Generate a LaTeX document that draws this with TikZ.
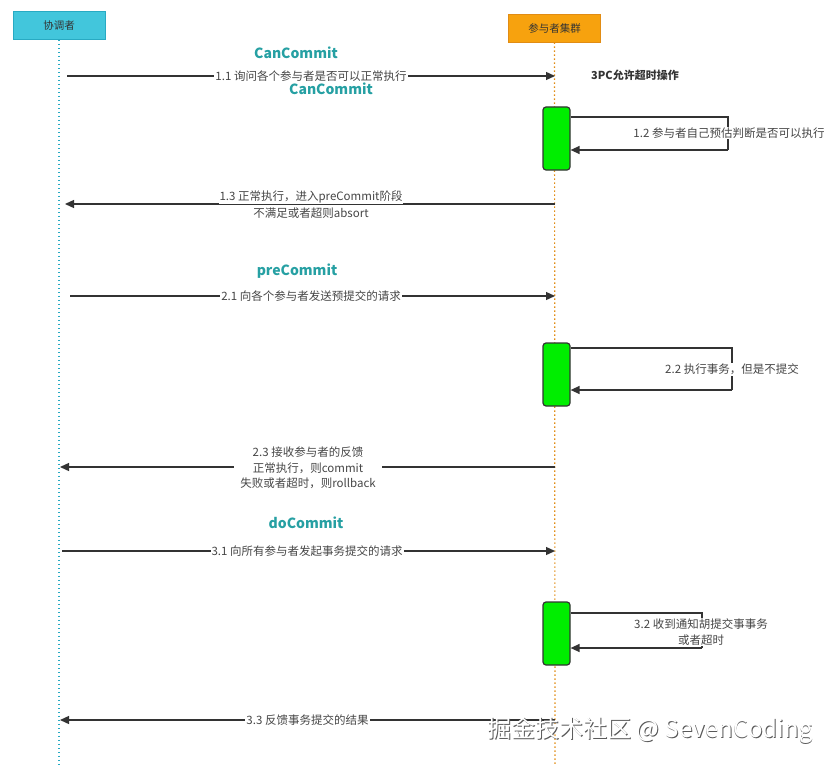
\documentclass[tikz,border=0pt]{standalone}
\usepackage{fontspec}
\setmainfont{Noto Sans CJK SC}
\usetikzlibrary{arrows.meta}
\definecolor{teal2}{RGB}{38,160,163}
\definecolor{cyanbox}{RGB}{66,198,220}
\definecolor{cyanline}{RGB}{40,170,195}
\definecolor{orangebox}{RGB}{247,162,14}
\definecolor{orangeline}{RGB}{225,140,20}
\definecolor{actgreen}{RGB}{0,238,0}
\definecolor{ink}{RGB}{51,51,51}
\definecolor{lbl}{RGB}{70,70,70}
\tikzset{
  actor/.style={draw=#1, line width=0.8pt, minimum width=92pt, minimum height=28pt, font=\fontsize{10.5}{12}\selectfont, text=ink, inner sep=0pt},
  life/.style={draw=#1, line width=1.2pt, dash pattern=on 1.5pt off 2.5pt},
  msg/.style={draw=ink, line width=1.3pt, -{Triangle[length=9pt,width=8pt]}},
  loopl/.style={draw=ink, line width=1.3pt},
  lab/.style={fill=white, text=lbl, font=\fontsize{11.5}{15.5}\selectfont, inner sep=1pt, align=center},
  phase/.style={text=teal2, font=\bfseries\fontsize{14}{16}\selectfont, inner sep=0pt},
  act/.style={draw=ink, fill=actgreen, line width=1.2pt, rounded corners=3pt, minimum width=27pt, minimum height=63pt, inner sep=0pt}
}
\begin{document}
\begin{tikzpicture}[x=1pt,y=-1pt]
\useasboundingbox[fill=white] (0,0) rectangle (832,765);
% actors
\node[actor=cyanline, fill=cyanbox] (coord) at (59,25.5) {协调者};
\node[actor=orangeline, fill=orangebox] (part) at (554.5,28) {参与者集群};
\coordinate (coordEnd) at (59,765);
\coordinate (partEnd) at (555,765);
\draw[life=cyanline] (coord.south) -- (coordEnd);
\draw[life=orangeline] (part.south) -- (partEnd);

% phase 1
\node[phase] (p1) at (296,53) {CanCommit};
\coordinate (a1s) at (67,76);
\coordinate (a1e) at (555,76);
\draw[msg] (a1s) -- (a1e) node[lab, pos=0.5] (l11) {1.1 询问各个参与者是否可以正常执行};
\node[phase] (p1b) at (331,89) {CanCommit};
\node[font=\bfseries\fontsize{11}{12}\selectfont, text=ink] (note) at (635,75) {3PC允许超时操作};

\node[act] (act1) at (556.5,138.5) {};
\coordinate (r1a) at (728,117);
\coordinate (r1b) at (728,150);
\draw[loopl] (act1.east |- r1a) -- (r1a) -- (r1b);
\draw[msg] (r1b) -- (act1.east |- r1b);
\node[lab] (l12) at (729,133) {1.2 参与者自己预估判断是否可以执行};

\coordinate (a13s) at (555,204);
\coordinate (a13e) at (65,204);
\draw[msg] (a13s) -- (a13e);
\node[lab, fill=none] (l13b) at (311,213) {不满足或者超则absort};
\node[lab] (l13) at (311,197) {1.3 正常执行，进入preCommit阶段};

% phase 2
\node[phase] (p2) at (297,271) {preCommit};
\coordinate (a2s) at (70,296);
\coordinate (a2e) at (555,296);
\draw[msg] (a2s) -- (a2e) node[lab, pos=0.497] (l21) {2.1 向各个参与者发送预提交的请求};

\node[act] (act2) at (556.5,374.5) {};
\coordinate (r2a) at (732,348);
\coordinate (r2b) at (732,390);
\draw[loopl] (act2.east |- r2a) -- (r2a) -- (r2b);
\draw[msg] (r2b) -- (act2.east |- r2b);
\node[lab] (l22) at (732,369) {2.2 执行事务，但是不提交};

\coordinate (a23s) at (555,467);
\coordinate (a23e) at (60,467);
\draw[msg] (a23s) -- (a23e);
\node[lab, inner xsep=6pt] (l23) at (308,468) {2.3 接收参与者的反馈\\正常执行，则commit\\失败或者超时，则rollback};

% phase 3
\node[phase] (p3) at (306,523) {doCommit};
\coordinate (a3s) at (62,551);
\coordinate (a3e) at (555,551);
\draw[msg] (a3s) -- (a3e) node[lab, pos=0.497] (l31) {3.1 向所有参与者发起事务提交的请求};

\node[act] (act3) at (556.5,633.5) {};
\coordinate (r3a) at (702,613);
\coordinate (r3b) at (702,648);
\draw[loopl] (act3.east |- r3a) -- (r3a) -- (r3b);
\draw[msg] (r3b) -- (act3.east |- r3b);
\node[lab] (l32) at (701,632) {3.2 收到通知胡提交事事务\\或者超时};

\coordinate (a33s) at (555,720);
\coordinate (a33e) at (60,720);
\draw[msg] (a33s) -- (a33e) node[lab, pos=0.5] (l33) {3.3 反馈事务提交的结果};

% watermark
\node[text=black!65, font=\fontsize{24}{26}\selectfont, inner sep=0pt] (wm0) at (650.9,730.9) {掘金技术社区 @ SevenCoding};
\node[text=white, font=\fontsize{24}{26}\selectfont, inner sep=0pt] (wm) at (650,730) {掘金技术社区 @ SevenCoding};
\end{tikzpicture}
\end{document}
